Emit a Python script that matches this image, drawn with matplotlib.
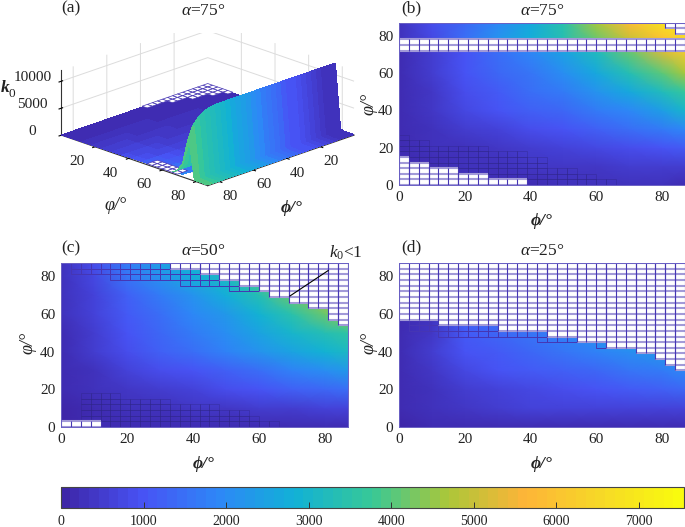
import matplotlib
matplotlib.use("Agg")
import numpy as np
import matplotlib.pyplot as plt
from matplotlib.colors import LinearSegmentedColormap, Normalize
from matplotlib.cm import ScalarMappable
from matplotlib.patches import Rectangle
from mpl_toolkits.mplot3d.art3d import Poly3DCollection

plt.rcParams['font.family'] = ['Liberation Serif', 'DejaVu Serif']
plt.rcParams['mathtext.fontset'] = 'custom'
plt.rcParams['mathtext.rm'] = 'Liberation Serif'
plt.rcParams['mathtext.it'] = 'Liberation Serif:italic'
plt.rcParams['mathtext.bf'] = 'Liberation Serif:bold'

W, H = 685, 527
TEXT = '#222222'
BLUE = '#4636b4'
LAV = '#a29ad8'
DARK = '#2c2480'

parula_stops = [(.2422,.1504,.6603),(.2810,.3228,.9579),(.1786,.5289,.9682),(.0689,.6948,.8394),
                (.2161,.7843,.5923),(.6720,.7793,.2227),(.9970,.7059,.2199),(.9657,.85,.15),(.9763,.9831,.0538)]
parula = LinearSegmentedColormap.from_list('parula', parula_stops, N=64)
VMAX = 7545
norm = Normalize(0, VMAX)

phi_nodes = [0, 10, 20, 30, 40, 50, 60, 70, 80, 87]

b_psi = [0, 10, 20, 30, 40, 50, 60, 72, 78, 87]
b_val = [[100,150,150,200,200,250,250,250,250,200],
         [120,220,280,320,360,400,450,480,520,550],
         [120,250,350,450,550,650,750,850,950,1100],
         [130,300,500,700,850,1000,1200,1450,1700,1900],
         [150,400,750,1000,1200,1400,1700,2000,2400,3000],
         [180,450,850,1150,1450,1750,2150,2700,3300,3700],
         [200,500,950,1300,1650,2100,2700,3400,4100,4700],
         [220,550,1050,1500,1900,2500,3300,4200,5200,6200],
         [300,800,1500,2200,2800,3400,4200,5000,6000,6600],
         [300,900,1400,2000,2600,3500,4700,5800,6800,7000]]
b_white = [(0,87,72,78),(81,87,84,87),(84,87,81,84),(0,3,0,15),(3,9,0,12),(9,18,0,9),(18,27,0,6),(27,39,0,3)]
b_dark = [(0,3,15,27),(3,9,12,24),(9,18,9,21),(18,27,6,21),(27,30,3,18),(30,39,3,18),(39,45,0,15),
          (45,54,0,9),(54,60,0,6),(60,66,0,3)]
b_frame = []

c_psi = [0, 10, 20, 30, 40, 50, 60, 70, 80, 87]
c_val = [[100,150,200,200,200,200,200,200,200,200],
         [100,200,300,350,400,450,500,550,600,600],
         [120,250,400,550,700,850,1000,1200,1400,1500],
         [150,350,600,850,1050,1250,1500,1800,2100,2300],
         [200,500,900,1200,1500,1800,2150,2500,2900,3100],
         [220,550,1000,1350,1700,2050,2500,3000,3400,3600],
         [250,600,1100,1500,1900,2350,2900,3500,4200,4700],
         [250,650,1200,1700,2200,2800,3400,4200,4800,5000],
         [280,800,1600,2200,2800,3100,3900,4500,4800,5000],
         [300,900,1700,2400,2800,3100,3900,4500,4800,5000]]
c_white = [(0,12,0,3),(33,42,84,87),(42,48,81,87),(48,54,78,87),(54,60,75,87),(60,63,72,87),(63,69,69,87),
           (69,75,66,87),(75,81,63,87),(81,84,57,87),(84,87,54,87)]
c_dark = [(6,12,3,18),(12,18,0,18),(18,33,0,15),(33,48,0,12),(48,57,0,9),(57,60,0,6),(60,66,0,3)]
c_frame = [(3,15,81,87),(15,33,78,87),(33,36,78,84),(36,42,75,84),(42,48,75,81),(48,51,75,78),(51,54,72,78),(54,60,72,75)]

d_psi = [0, 10, 20, 30, 40, 50, 60, 87]
d_val = [[100,120,150,180,200,200,200,200,200,200],
         [120,300,450,550,600,650,700,700,700,700],
         [130,350,550,700,800,900,1000,1100,1200,1350],
         [180,450,750,950,1100,1250,1400,1550,1750,2000],
         [220,500,950,1150,1350,1550,1800,2050,2350,2600],
         [230,400,1100,1350,1600,1850,2200,2600,3000,3200],
         [230,300,1300,1500,1750,2000,2400,2800,3200,3500],
         [230,300,1300,1500,1750,2000,2400,2800,3200,3500]]
d_white = [(0,12,57,87),(12,30,54,87),(30,45,51,87),(45,54,48,87),(54,63,45,87),(63,72,42,87),(72,78,39,87),
           (78,81,36,87),(81,84,33,87),(84,87,30,87)]
d_dark = []
d_frame = [(3,12,51,57),(12,30,48,54),(30,42,48,51),(42,45,45,51),(45,54,45,48),(60,63,42,45)]

a_phi = [0, 6, 12, 18, 24, 30, 36, 42, 48, 54, 60, 66, 72, 78, 84, 87]
a_psi = [0, 6, 12, 18, 24, 30, 36, 42, 48, 54, 60, 66, 72]
a_ground = [[120,120,130,130,140,140,150,150,150,150,150,150,150,150,150,150],
            [130,140,150,150,160,170,180,180,190,190,200,200,200,200,200,200],
            [150,170,180,190,200,210,220,230,240,250,250,260,270,280,290,300],
            [160,180,200,220,240,250,270,290,300,320,340,360,380,400,420,430],
            [170,190,220,250,270,290,310,340,360,390,420,450,480,510,540,560],
            [180,200,240,270,300,330,360,390,420,460,500,540,590,640,700,730],
            [190,220,260,300,340,370,410,450,490,530,580,640,710,780,860,900],
            [200,230,280,320,370,410,450,500,550,600,660,730,820,920,1030,1090],
            [210,250,300,350,400,450,500,550,610,680,760,850,950,1070,1210,1290],
            [220,260,320,380,440,490,550,610,680,760,860,970,1100,1250,1420,1500],
            [230,280,340,400,470,530,600,670,750,850,970,1110,1270,1450,1650,1750],
            [240,290,360,430,500,570,650,730,830,950,1090,1250,1450,1670,1900,2050],
            [250,300,380,460,540,620,700,800,920,1060,1230,1430,1660,1930,2200,2350]]
wall_phi = [0,3,6,9,12,15,18,21,24,27,30,33,36,39,42,45,48,51,54,57,60,63,66,69,72,75,78,81,84,87]
wall_psi = [66, 69, 72, 75, 76, 79, 81, 84, 87]
psi66_z = [300]*30
psi69_z = [300,320,340,360,380,400,420,440,470,500,530,560,600,640,680,720,770,820,880,950,1020,1100,1200,1300,1400,1500,1600,1700,1500,900]
psi72_z = [5000,5200,5500,5700,6000,6200,6400,6600,6800,7000,7200,7400,7600,7800,8000,8200,8400,8600,8800,8900,9000,9100,9200,9200,9100,8800,8200,7000,5000,2500]
psi75_z = [12000]*24 + [11900,11700,11300,10600,9400,7000]
psi76_z = [12000]*24 + [11900,11700,11300,10600,9400,7000]
psi79_z = [250]*30
psi81_z = [120]*30
psi84_z = [120]*30
psi87_z = [120]*30
wall_col = [250,300,350,450,550,650,750,850,950,1050,1150,1300,1450,1600,1750,1900,2050,2250,2400,2550,2700,2850,3000,3150,3250,3350,3500,3700,4000,4500]
a_white = [(0,3,0,15),(3,9,0,12),(9,18,0,9),(18,27,0,6),(27,39,0,3),(81,87,51,69),(69,87,84,87)]

ticks2d = [0, 20, 40, 60, 80]
ticks3d = [20, 40, 60, 80]
z_ticks = [0, 5000, 10000]
cbar_ticks = [0, 1000, 2000, 3000, 4000, 5000, 6000, 7000]
titles = ['$\\alpha$=75°', '$\\alpha$=75°', '$\\mathit{\\alpha}$=50°', '$\\alpha$=25°']

fig = plt.figure(figsize=(W/100, H/100), dpi=100, facecolor='white')

def rect(l, t, r, b):
    return [l/W, 1-b/H, (r-l)/W, (b-t)/H]

def label(x, y, s, **kw):
    kw.setdefault('ha', 'center')
    kw.setdefault('va', 'center')
    kw.setdefault('color', TEXT)
    kw.setdefault('zorder', 5)
    return fig.text(x/W, 1-y/H, s, **kw)

def cells(ax, blocks, face, edge, lw, alpha=1.0):
    for p0, p1, s0, s1 in blocks:
        xs = np.arange(p0, p1, 3)
        for s in np.arange(s0, s1, 3):
            ax.bar(xs, 3, bottom=s, width=3, align='edge', facecolor=face, edgecolor=edge,
                   linewidth=lw, alpha=alpha, zorder=3)

def white_cells(ax, blocks):
    for p0, p1, s0, s1 in blocks:
        ax.bar(p0, s1-s0, bottom=s0, width=p1-p0, align='edge', facecolor='white', edgecolor='none', zorder=4)
    for p0, p1, s0, s1 in blocks:
        ax.hlines(np.arange(s0, s1+1, 3), p0, p1, color=LAV, linewidth=1.5, zorder=5)
    for p0, p1, s0, s1 in blocks:
        ax.vlines(np.arange(p0, p1+1, 3), s0, s1, color=BLUE, linewidth=0.8, zorder=6)

def panel(box, psi, val, white, dark, frame):
    ax = fig.add_axes(rect(*box))
    ax.pcolormesh(phi_nodes, psi, np.array(val, float), cmap=parula, norm=norm, shading='gouraud', zorder=1)
    cells(ax, dark, 'none', DARK, 0.45, 0.5)
    cells(ax, frame, 'none', BLUE, 0.7)
    white_cells(ax, white)
    ax.set_xlim(0, 87); ax.set_ylim(0, 87)
    ax.set_xticks(ticks2d); ax.set_yticks(ticks2d)
    ax.tick_params(length=0, labelsize=11, labelcolor=TEXT, pad=4)
    for s in ax.spines.values():
        s.set_color('#6a60c4'); s.set_linewidth(0.7); s.set_zorder(7)
    return ax

panel((399, 22.5, 685, 185), b_psi, b_val, b_white, b_dark, b_frame)
axc = panel((61, 263, 348, 427), c_psi, c_val, c_white, c_dark, c_frame)
panel((399, 263, 685, 427), d_psi, d_val, d_white, d_dark, d_frame)
axc.plot([69.4, 81], [69.5, 83], color='black', lw=0.8, zorder=8, clip_on=False)

# panel (a)
ax3 = fig.add_axes(rect(28, -67.5, 378, 282.5), projection='3d', computed_zorder=False, proj_type='ortho', zorder=-1)
ax3.patch.set_alpha(0)
ax3.view_init(elev=20.2, azim=45)
ax3.set_box_aspect((3, 3, 1), zoom=1.242*235/350)
PX, PY = np.meshgrid(a_phi, a_psi)
G = np.array(a_ground, float)
ax3.plot_surface(PX, PY, G*0.2, facecolors=parula(norm(G)), rstride=1, cstride=1, shade=False,
                 linewidth=0, antialiased=False, zorder=1)
verts = []
for p0, p1, s0, s1 in a_white:
    for p in np.arange(p0, p1, 3):
        for s in np.arange(s0, s1, 3):
            verts.append([(p, s, 200), (p+3, s, 200), (p+3, s+3, 200), (p, s+3, 200)])
ax3.add_collection3d(Poly3DCollection(verts, facecolors='white', edgecolors=BLUE, linewidths=0.5, zorder=2))
WX, WY = np.meshgrid(wall_phi, wall_psi)
WZ = np.array([psi66_z, psi69_z, psi72_z, psi75_z, psi76_z, psi79_z, psi81_z, psi84_z, psi87_z], float)
WC = np.tile(np.array(wall_col, float), (len(wall_psi), 1))
ax3.plot_surface(WX, WY, WZ, facecolors=parula(norm(WC)), rstride=1, cstride=1, shade=False,
                 linewidth=0, antialiased=False, zorder=3)
ax3.set_xlim(0, 87); ax3.set_ylim(0, 87); ax3.set_zlim(0, 12000)
ax3.set_xticks(ticks3d); ax3.set_yticks(ticks3d); ax3.set_zticks(z_ticks)
ax3.tick_params(labelsize=11, labelcolor=TEXT, pad=1.5)
ax3.tick_params(axis='z', pad=5)
for t in ax3.yaxis.get_ticklabels():
    t.set_ha('right')
for t in ax3.zaxis.get_ticklabels():
    t.set_va('baseline')
for a in (ax3.xaxis, ax3.yaxis, ax3.zaxis):
    a.set_pane_color((1, 1, 1, 0))
    a._axinfo['grid'].update(color='#dcdcdc', linewidth=0.7)
    a.line.set_color('#333333')
    a.pane.set_edgecolor('#dcdcdc')
fig.add_artist(Rectangle((0, 1-33/H), 350/W, 33/H, transform=fig.transFigure, facecolor='white', edgecolor='none', zorder=1))

# text
label(71, 8, '(a)', fontsize=12.5)
label(411, 8, '(b)', fontsize=12.5)
label(71, 248, '(c)', fontsize=12.5)
label(411, 247, '(d)', fontsize=12.5)
label(203, 11, titles[0], fontsize=12.5)
label(542, 11, titles[1], fontsize=12.5)
label(203, 251, titles[2], fontsize=12.5)
label(542, 251, titles[3], fontsize=12.5)
for x, y in [(542, 221), (204, 464), (542, 464), (292, 208)]:
    label(x, y, 'ϕ/°', fontsize=12.5, style='italic', weight='bold')
label(116, 206, 'φ/°', fontsize=13, style='italic')
for x, y in [(369, 104), (28, 343), (369, 343)]:
    label(x, y, 'φ/°', fontsize=13, style='italic', rotation=90)
label(5, 88, 'k', fontsize=12.5, style='italic', weight='bold')
label(12, 94, '0', fontsize=9.5)
label(329, 253, '$\\mathit{k}_{0}$<1', fontsize=12.5, ha='left')

# colour bar
cax = fig.add_axes(rect(61, 487, 684, 508))
cb = fig.colorbar(ScalarMappable(norm=norm, cmap=parula), cax=cax, orientation='horizontal')
cb.set_ticks(cbar_ticks)
cb.solids.set_edgecolor('face')
cax.tick_params(direction='in', length=4, width=0.7, color='#333333', labelsize=10, labelcolor=TEXT, pad=5)
cb.outline.set_edgecolor('#444444'); cb.outline.set_linewidth(0.8)

fig.savefig('out.png', dpi=100)
